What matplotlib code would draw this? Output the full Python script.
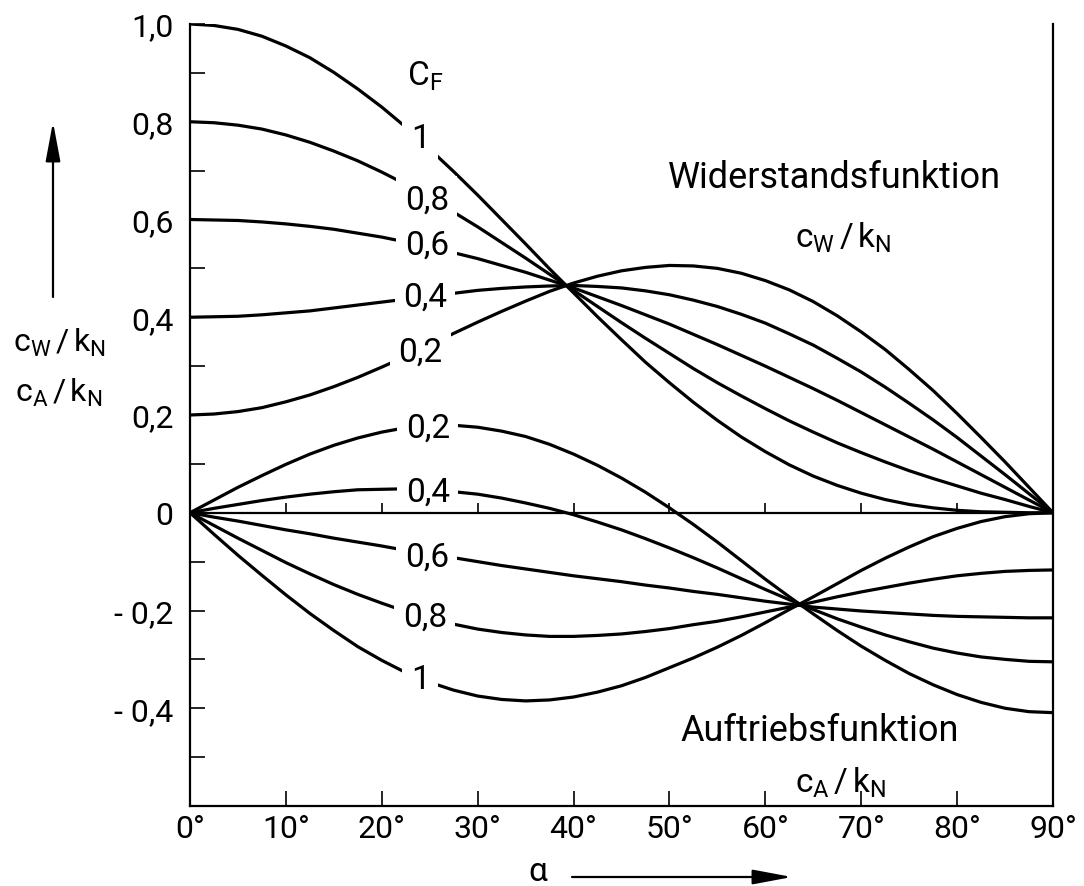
import matplotlib
matplotlib.use("Agg")
import matplotlib.pyplot as plt
from matplotlib.ticker import FixedLocator, FixedFormatter

plt.rcParams['font.family'] = ['Roboto', 'DejaVu Sans']
plt.rcParams['mathtext.fontset'] = 'custom'
plt.rcParams['mathtext.rm'] = 'Roboto'
plt.rcParams['mathtext.it'] = 'Roboto:italic'
plt.rcParams['mathtext.bf'] = 'Roboto:bold'

# angle of attack in degrees
alpha = [0, 2.5, 5, 7.5, 10, 12.5, 15, 17.5, 20, 22.5, 25, 27.5, 30, 32.5, 35, 37.5, 40, 42.5, 45,
         47.5, 50, 52.5, 55, 57.5, 60, 62.5, 65, 67.5, 70, 72.5, 75, 77.5, 80, 82.5, 85, 87.5, 90]

# Widerstandsfunktion c_W/k_N for C_F = 1, 0.8, 0.6, 0.4, 0.2
cw_10 = [1.000, 0.997, 0.989, 0.975, 0.955, 0.931, 0.901, 0.867, 0.830, 0.789, 0.744, 0.698, 0.650,
         0.600, 0.550, 0.499, 0.450, 0.401, 0.354, 0.308, 0.266, 0.226, 0.189, 0.155, 0.125, 0.098,
         0.075, 0.056, 0.040, 0.027, 0.017, 0.010, 0.005, 0.002, 0.001, 0.000, 0.000]
cw_08 = [0.800, 0.798, 0.793, 0.785, 0.773, 0.758, 0.740, 0.720, 0.697, 0.672, 0.644, 0.615, 0.585,
         0.553, 0.521, 0.488, 0.455, 0.422, 0.389, 0.357, 0.326, 0.295, 0.266, 0.239, 0.213, 0.188,
         0.165, 0.143, 0.123, 0.104, 0.086, 0.070, 0.055, 0.040, 0.027, 0.013, 0.000]
cw_06 = [0.600, 0.599, 0.598, 0.595, 0.591, 0.586, 0.580, 0.572, 0.564, 0.554, 0.544, 0.532, 0.520,
         0.506, 0.492, 0.476, 0.460, 0.442, 0.424, 0.405, 0.386, 0.365, 0.344, 0.322, 0.300, 0.277,
         0.254, 0.230, 0.205, 0.180, 0.155, 0.130, 0.104, 0.078, 0.052, 0.026, 0.000]
cw_04 = [0.400, 0.401, 0.402, 0.405, 0.409, 0.413, 0.419, 0.425, 0.431, 0.437, 0.444, 0.449, 0.455,
         0.459, 0.462, 0.464, 0.465, 0.463, 0.460, 0.454, 0.446, 0.435, 0.422, 0.406, 0.388, 0.366,
         0.343, 0.316, 0.288, 0.257, 0.224, 0.190, 0.154, 0.116, 0.078, 0.039, 0.000]
cw_02 = [0.200, 0.202, 0.207, 0.215, 0.227, 0.241, 0.258, 0.277, 0.298, 0.320, 0.343, 0.367, 0.390,
         0.412, 0.433, 0.453, 0.470, 0.484, 0.495, 0.502, 0.506, 0.505, 0.500, 0.490, 0.475, 0.456,
         0.432, 0.403, 0.370, 0.334, 0.293, 0.250, 0.203, 0.154, 0.104, 0.052, 0.000]

# Auftriebsfunktion c_A/k_N for the same C_F values
ca_10 = [0.000, -0.044, -0.087, -0.128, -0.168, -0.206, -0.241, -0.274, -0.302, -0.327, -0.347, -0.363,
         -0.375, -0.382, -0.385, -0.383, -0.377, -0.367, -0.354, -0.337, -0.317, -0.297, -0.275, -0.251,
         -0.225, -0.198, -0.172, -0.145, -0.118, -0.093, -0.070, -0.049, -0.032, -0.018, -0.008, -0.002, 0.000]
ca_08 = [0.000, -0.026, -0.052, -0.077, -0.102, -0.125, -0.147, -0.167, -0.185, -0.202, -0.216, -0.228,
         -0.238, -0.245, -0.250, -0.253, -0.253, -0.251, -0.248, -0.243, -0.237, -0.229, -0.222, -0.213,
         -0.203, -0.193, -0.183, -0.172, -0.162, -0.153, -0.144, -0.136, -0.129, -0.124, -0.120, -0.118, -0.117]
ca_06 = [0.000, -0.009, -0.017, -0.026, -0.035, -0.043, -0.052, -0.060, -0.068, -0.077, -0.085, -0.092,
         -0.100, -0.108, -0.115, -0.122, -0.129, -0.135, -0.141, -0.148, -0.154, -0.161, -0.167, -0.174,
         -0.181, -0.187, -0.193, -0.197, -0.201, -0.204, -0.207, -0.210, -0.212, -0.213, -0.214, -0.215, -0.215]
ca_04 = [0.000, 0.009, 0.017, 0.025, 0.032, 0.038, 0.043, 0.047, 0.048, 0.049, 0.047, 0.043,
         0.038, 0.030, 0.020, 0.009, -0.004, -0.019, -0.035, -0.053, -0.072, -0.092, -0.113, -0.135,
         -0.157, -0.178, -0.198, -0.217, -0.234, -0.250, -0.264, -0.277, -0.287, -0.295, -0.300, -0.304, -0.305]
ca_02 = [0.000, 0.026, 0.052, 0.076, 0.099, 0.120, 0.138, 0.153, 0.165, 0.174, 0.178, 0.179,
         0.175, 0.167, 0.156, 0.140, 0.120, 0.097, 0.071, 0.042, 0.010, -0.024, -0.060, -0.098,
         -0.136, -0.172, -0.207, -0.241, -0.273, -0.302, -0.329, -0.352, -0.372, -0.388, -0.400, -0.407, -0.409]

x_ticks = [0, 10, 20, 30, 40, 50, 60, 70, 80, 90]
x_labels = ['0°', '10°', '20°', '30°', '40°', '50°', '60°', '70°', '80°', '90°']
y_ticks = [1.0, 0.8, 0.6, 0.4, 0.2, 0.0, -0.2, -0.4]
y_labels = ['1,0', '0,8', '0,6', '0,4', '0,2', '0', '- 0,2', '- 0,4']
y_minor = [0.9, 0.7, 0.5, 0.3, 0.1, -0.1, -0.3, -0.5]

# curve labels (text, alpha, value) sitting in gaps of the curves
drag_labels = [('1', 24.0, 0.767), ('0,8', 24.7, 0.640), ('0,6', 24.7, 0.548),
               ('0,4', 24.5, 0.442), ('0,2', 24.0, 0.330)]
lift_labels = [('0,2', 24.8, 0.174), ('0,4', 24.8, 0.043), ('0,6', 24.7, -0.090),
               ('0,8', 24.5, -0.213), ('1', 24.0, -0.340)]

W, H = 1084, 887
fig = plt.figure(figsize=(W / 100, H / 100), dpi=100)
ax = fig.add_axes([190 / W, 80 / H, 863 / W, 782 / H])
ax.set_xlim(0, 90)
ax.set_ylim(-0.6, 1.0)

for side in ['left', 'bottom', 'right']:
    ax.spines[side].set_linewidth(1.6)
ax.spines['top'].set_visible(False)

ax.xaxis.set_major_locator(FixedLocator(x_ticks))
ax.xaxis.set_major_formatter(FixedFormatter(x_labels))
ax.yaxis.set_major_locator(FixedLocator(y_ticks))
ax.yaxis.set_major_formatter(FixedFormatter(y_labels))
ax.yaxis.set_minor_locator(FixedLocator(y_minor))
ax.tick_params(axis='both', which='both', direction='in', length=10.5, width=1.2,
               labelsize=23, colors='k')
ax.tick_params(axis='y', which='both', pad=12)
ax.tick_params(axis='x', which='both', pad=6)

# zero line with its small ticks, kept above the label boxes
ax.axhline(0, color='k', lw=1.6, zorder=6)
ax.vlines(x_ticks[1:-1], 0, 0.02, color='k', lw=1.2, zorder=6)

for ys in [cw_10, cw_08, cw_06, cw_04, cw_02, ca_10, ca_08, ca_06, ca_04, ca_02]:
    ax.plot(alpha, ys, color='k', lw=2.3, solid_capstyle='round', solid_joinstyle='round', zorder=3)

for s, x, y in drag_labels + lift_labels:
    ax.text(x, y, s, fontsize=24, ha='center', va='center', zorder=5,
            bbox=dict(boxstyle='square,pad=0.25', fc='white', ec='none'))

ax.text(24.5, 0.896, r'$\mathrm{C_F}$', fontsize=24, ha='center', va='center')
ax.text(67.2, 0.687, 'Widerstandsfunktion', fontsize=26, ha='center', va='center')
ax.text(68.1, 0.565, r'$\mathrm{c_W\,/\,k_N}$', fontsize=24, ha='center', va='center')
ax.text(65.7, -0.444, 'Auftriebsfunktion', fontsize=26, ha='center', va='center')
ax.text(67.8, -0.550, r'$\mathrm{c_A\,/\,k_N}$', fontsize=24, ha='center', va='center')

# axis captions with arrows
fig.text(59 / W, 1 - 343 / H, r'$\mathrm{c_W\,/\,k_N}$', fontsize=23, ha='center', va='center')
fig.text(59 / W, 1 - 393 / H, r'$\mathrm{c_A\,/\,k_N}$', fontsize=23, ha='center', va='center')
fig.text(538 / W, 1 - 872 / H, 'α', fontsize=24, ha='center', va='center')

arrow = dict(arrowstyle='-|>,head_length=1.6,head_width=0.3', lw=1.6, color='k',
             mutation_scale=15, shrinkA=0, shrinkB=0)
ax.annotate('', xy=(53, H - 123), xytext=(53, H - 298), xycoords='figure pixels',
            textcoords='figure pixels', arrowprops=arrow)
ax.annotate('', xy=(792, H - 878), xytext=(572, H - 878), xycoords='figure pixels',
            textcoords='figure pixels', arrowprops=arrow)

fig.savefig('out.png', dpi=100)
